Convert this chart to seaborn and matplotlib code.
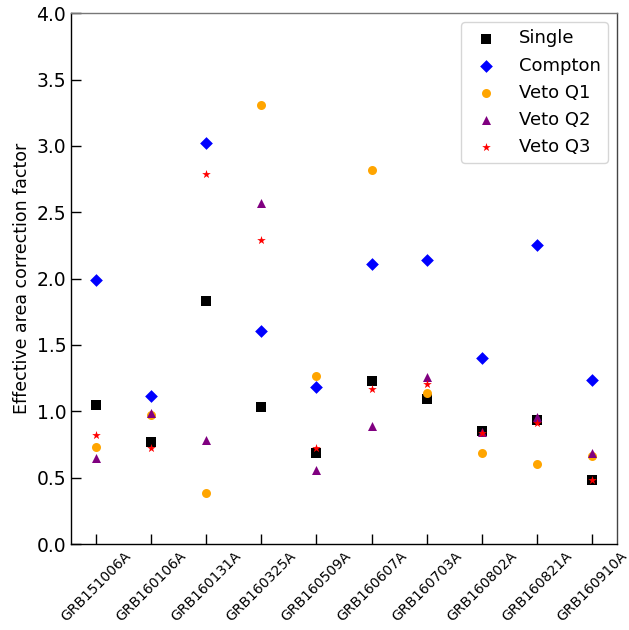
import matplotlib
matplotlib.use('Agg')
import matplotlib.pyplot as plt
import seaborn as sns

# GRB names on the x axis
grbs = ['GRB151006A', 'GRB160106A', 'GRB160131A', 'GRB160325A', 'GRB160509A',
        'GRB160607A', 'GRB160703A', 'GRB160802A', 'GRB160821A', 'GRB160910A']

# correction factors
single = [1.046, 0.770, 1.831, 1.033, 0.687, 1.229, 1.091, 0.852, 0.933, 0.481]
compton = [1.988, 1.114, 3.024, 1.608, 1.184, 2.113, 2.138, 1.402, 2.256, 1.234]
veto_q1 = [0.732, 0.971, 0.381, 3.310, 1.264, 2.815, 1.136, 0.684, 0.602, 0.662]
veto_q2 = [0.649, 0.988, 0.782, 2.572, 0.556, 0.890, 1.259, 0.845, 0.958, 0.687]
veto_q3 = [0.820, 0.720, 2.785, 2.288, 0.724, 1.166, 1.204, 0.835, 0.910, 0.481]

series = [
    ('Single', single, 's', 'black'),
    ('Compton', compton, 'D', 'blue'),
    ('Veto Q1', veto_q1, 'o', 'orange'),
    ('Veto Q2', veto_q2, '^', 'purple'),
    ('Veto Q3', veto_q3, '*', 'red'),
]

sns.set_style('ticks', rc={'text.color': 'black', 'axes.labelcolor': 'black',
                           'xtick.color': 'black', 'ytick.color': 'black',
                           'axes.edgecolor': 'black'})
plt.rcParams['font.family'] = ['DejaVu Sans']

fig = plt.figure(figsize=(6.29, 6.3), dpi=100)
ax = fig.add_axes([0.113, 0.1365, 0.868, 0.8425])

for nome, vals, m, c in series:
    sns.scatterplot(x=grbs, y=vals, marker=m, color=c, s=42, linewidth=0,
                    label=nome, ax=ax)

ax.set_xlim(-0.45, 9.45)
ax.set_ylim(0, 4.0)
ax.set_yticks([0, 0.5, 1.0, 1.5, 2.0, 2.5, 3.0, 3.5, 4.0])
ax.set_ylabel('Effective area correction factor', fontsize=12.5)
ax.set_xlabel('')
ax.tick_params(axis='both', direction='in', length=7, width=1)
ax.tick_params(axis='y', labelsize=13.5)
ax.tick_params(axis='x', labelsize=10, rotation=45)
for lado in ['top', 'right', 'left', 'bottom']:
    ax.spines[lado].set_visible(True)
    ax.spines[lado].set_color('black')
    ax.spines[lado].set_linewidth(1)
ax.spines['top'].set_color('#777777')
ax.spines['right'].set_color('#444444')

ax.legend(loc='upper right', fontsize=13, frameon=True)

fig.savefig('out.png', dpi=100)
